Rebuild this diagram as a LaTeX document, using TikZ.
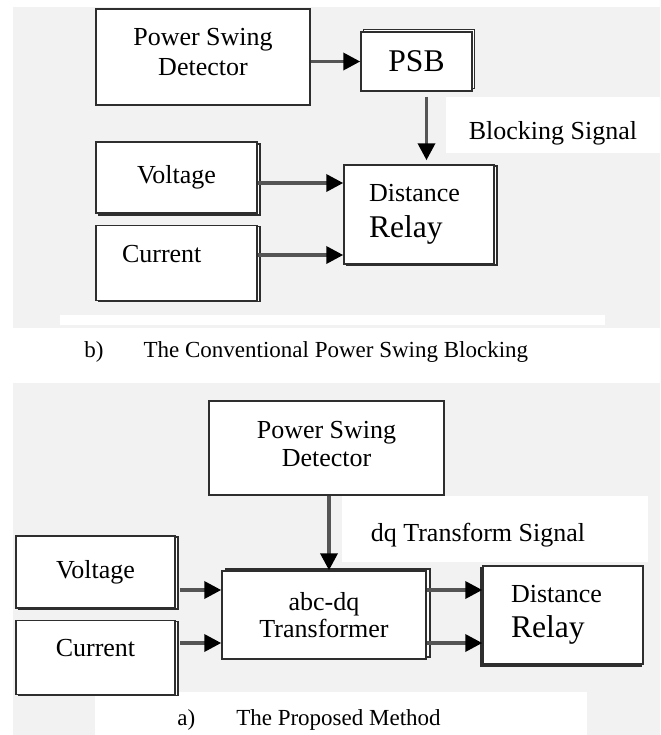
\documentclass[tikz,border=0pt]{standalone}
\usepackage{fontspec}
\setmainfont{Liberation Serif}
\usepackage{xcolor}
\usepackage{tikz}
\usetikzlibrary{arrows.meta, positioning, shadows, calc}
\definecolor{panel}{HTML}{F2F2F2}
\definecolor{edge}{HTML}{2E2E2E}
\definecolor{shaft}{HTML}{555555}
\newcommand{\nsz}{\fontsize{13}{15}\selectfont}
\newcommand{\bsz}{\fontsize{15.8}{18}\selectfont}
\newcommand{\csz}{\fontsize{11.5}{13}\selectfont}
\tikzset{
  blockbox/.style={rectangle, draw=edge, line width=0.75pt, fill=white, align=center, font=\nsz, inner sep=0pt},
  shd/.style 2 args={copy shadow={shadow xshift=#1, shadow yshift=#2, draw=edge, fill=white, line width=0.75pt}},
  arr/.style={-{Triangle[length=8.5pt,width=8.5pt,color=black]}, line width=1.8pt, shaft},
  lbl/.style={font=\nsz, inner sep=0pt},
  captxt/.style={font=\csz, inner sep=0pt, anchor=west},
}

\begin{document}
\begin{tikzpicture}[x=0.5pt, y=-0.5pt, node distance=5.5pt]
\useasboundingbox (0,0) rectangle (660,735);
\fill[panel] (13,7) rectangle (660,328);
\fill[white] (60,315) rectangle (605,325);
\fill[white] (446,97) rectangle (660,153);
\fill[panel] (13,383) rectangle (660,735);
\fill[white] (342,496) rectangle (648,562);
\fill[white] (95,692) rectangle (587,735);

\node[blockbox, minimum width=107pt, minimum height=48pt, text depth=5pt] (psd1) at (203,57) {Power Swing\\Detector};
\node[blockbox, shd={1.2pt}{1.2pt}, minimum width=55.5pt, minimum height=29.5pt, font=\bsz] (psb) at (416.5,61.5) {PSB};
\node[blockbox, shd={1.5pt}{-1pt}, minimum width=80.5pt, minimum height=35.5pt] (volt1) at (176.5,177.5) {Voltage};
\node[blockbox, shd={1.5pt}{-0.5pt}, minimum width=80.5pt, minimum height=37.5pt, text width=54.5pt, align=left, text depth=9.5pt, below=of volt1] (curr1) {Current};
\node[blockbox, shd={1.5pt}{-0.5pt}, minimum width=75pt, minimum height=49.5pt, text width=50pt, align=left] (dr1) at (419,214.5) {Distance\\[3pt]{\bsz Relay}};
\node[lbl] (blk) at (553,133) {Blocking Signal};
\draw[arr] (psd1.east |- psb.west) -- (psb.west);
\coordinate (bs) at ([xshift=5pt]psb.south);
\draw[arr, shorten <=2.5pt, shorten >=2pt] (bs) -- (bs |- dr1.north);
\coordinate (vin) at ($(dr1.west)+(0,-31.5)$);
\coordinate (cin) at ($(dr1.west)+(0,40.5)$);
\draw[arr] (vin -| volt1.east) -- (vin);
\draw[arr] (cin -| curr1.east) -- (cin);
\node[captxt] (capb) at (84,352) {b)\hspace*{20pt}The Conventional Power Swing Blocking};

\node[blockbox, minimum width=117.5pt, minimum height=47pt, text depth=4pt] (psd2) at (326.5,448) {Power Swing\\[-1pt]Detector};
\node[blockbox, shd={1.5pt}{-0.5pt}, minimum width=79.5pt, minimum height=36pt] (volt2) at (95.5,572) {Voltage};
\node[blockbox, shd={1.5pt}{-0.5pt}, minimum width=79.5pt, minimum height=37pt, text depth=10pt, below=of volt2] (curr2) {Current};
\node[blockbox, shd={2pt}{1pt}, minimum width=102pt, minimum height=44pt] (abc) at (324,615) {abc-dq\\[-1.5pt]Transformer};
\node[blockbox, shd={-1pt}{-1pt}, minimum width=80pt, minimum height=49pt, text width=52pt, align=left] (dr2) at (563,615) {Distance\\[2.5pt]{\bsz Relay}};
\node[lbl] (dqs) at (478,535) {dq Transform Signal};
\coordinate (ds) at ([xshift=1.25pt]psd2.south);
\draw[arr] (ds) -- (ds |- abc.north);
\coordinate (in1) at ($(abc.west)+(0,-25)$);
\coordinate (in2) at ($(abc.west)+(0,28)$);
\draw[arr, shorten <=2pt] (in1 -| volt2.east) -- (in1);
\draw[arr, shorten <=2pt] (in2 -| curr2.east) -- (in2);
\draw[arr] (in1 -| abc.east) -- (in1 -| dr2.west);
\draw[arr] (in2 -| abc.east) -- (in2 -| dr2.west);
\node[captxt] (capa) at (177,720) {a)\hspace*{20.5pt}The Proposed Method};
\end{tikzpicture}
\end{document}
